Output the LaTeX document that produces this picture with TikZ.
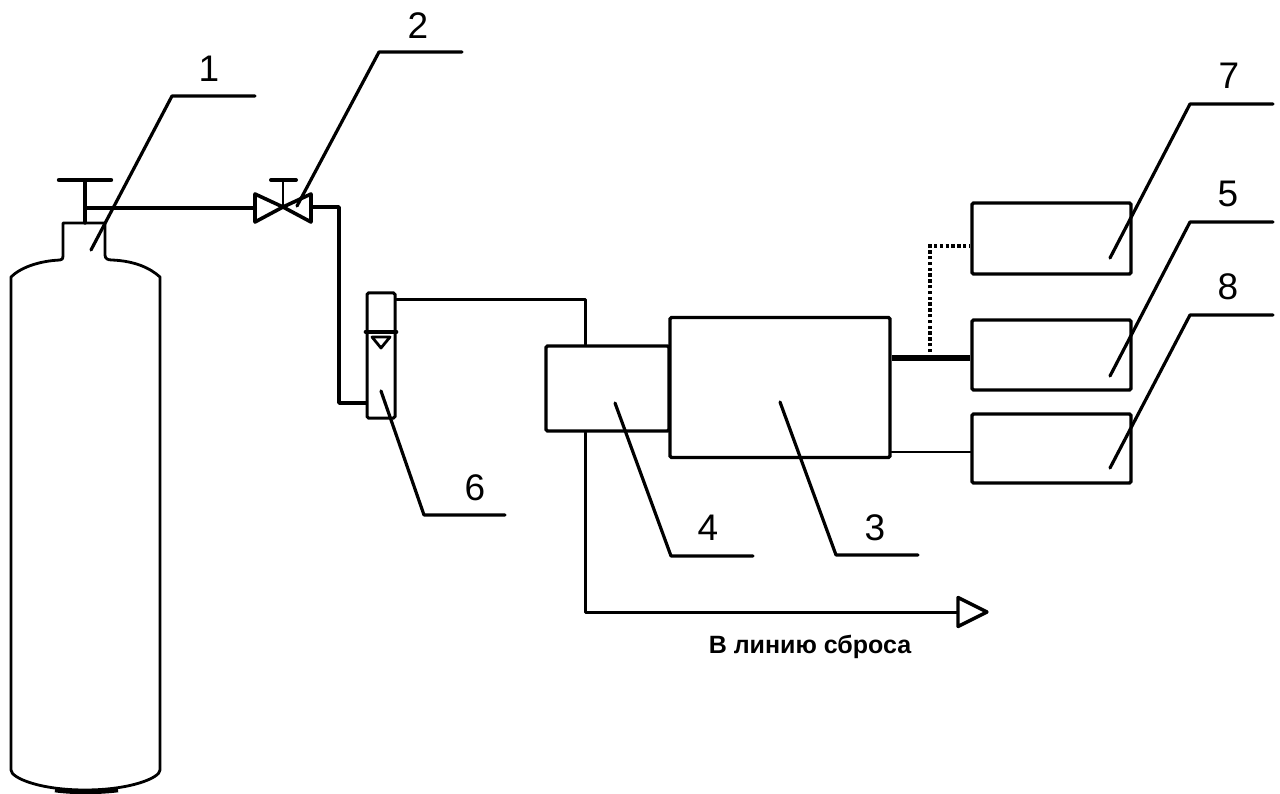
\documentclass[tikz,border=0pt]{standalone}
\usepackage{fontspec}
\setmainfont{Liberation Sans}
\tikzset{
  x=1pt,y=-1pt,
  ln/.style={line width=3pt,black,line join=round,line cap=round},
  blockbox/.style={draw=black,line width=3.4pt,rounded corners=1.5pt,inner sep=0pt,fill=white},
  leader/.style={line width=3.2pt,black,line join=round,line cap=round},
  num/.style={font=\fontsize{37}{37}\selectfont,inner sep=0pt},
}
\begin{document}
\begin{tikzpicture}
\useasboundingbox[fill=white] (0,0) rectangle (1280,794);
% cylinder
\draw[ln,line width=2.8pt] (63,223) -- (105,223) -- (105,255) .. controls (105,259) and (108,260) .. (112,260)
   .. controls (135,261) and (150,268) .. (160,277) -- (160,770)
   .. controls (160,778) and (130,790) .. (85,790)
   .. controls (40,790) and (11,778) .. (11,770) -- (11,277)
   .. controls (20,268) and (38,261) .. (60,260) .. controls (62,260) and (63,259) .. (63,255) -- (63,223);
\draw[line width=4.6pt,black] (55,790) .. controls (72,792.5) and (98,792.5) .. (118,790);
\coordinate (cylvalve) at (85,223);
\coordinate (cyltee) at (85,208);
\draw[ln,line width=4.4pt] (59,180) -- (111,180);
\draw[ln,line width=3.4pt] (85,180) -- (cylvalve);
% valve
\coordinate (vc) at (283,207);
\draw[ln,line width=3.6pt] (vc) -- (255,194) -- (255,222) -- cycle;
\draw[ln,line width=3.6pt] (vc) -- (311,194) -- (311,222) -- cycle;
\draw[ln,line width=2.8pt] (vc) -- (283,180);
\draw[ln,line width=4pt] (271,180) -- (296,180);
\draw[ln,line width=4pt] (cyltee) -- (255,208);
% rotameter
\node[blockbox,minimum width=28pt,minimum height=125pt,line width=3pt] (rot) at (381,355.5) {};
\draw[ln,line width=3.6pt] (rot.west |- 0,332) -- (rot.east |- 0,332);
\draw[ln,line width=2.8pt] (372,337) -- (381,348) -- (390,337) -- cycle;
\coordinate (rin) at (rot.west |- 0,403);
\coordinate (rout) at (rot.east |- 0,300);
\draw[ln,line width=3.4pt] (311,207) -- (339,207) -- (339,403) -- (rin);
% boxes
\node[blockbox,minimum width=123pt,minimum height=85pt] (b4) at (607.5,388.5) {};
\node[blockbox,minimum width=220pt,minimum height=140pt] (b3) at (780,387.5) {};
\node[blockbox,minimum width=159pt,minimum height=71pt] (b7) at (1051.5,238.5) {};
\node[blockbox,minimum width=159pt,minimum height=70pt] (b5) at (1051.5,355) {};
\node[blockbox,minimum width=159pt,minimum height=69pt] (b8) at (1051.5,448.5) {};
\coordinate (t4) at (b4.north -| 585,0);
\coordinate (s4) at (b4.south -| 585,0);
\draw[ln] (rout) -- (585,300) -- (t4);
\coordinate (arrowtail) at (958,612);
\draw[ln] (s4) -- (585,612) -- (arrowtail);
\draw[ln,line width=3.4pt,fill=white] (958,597.5) -- (987,612) -- (958,626.5) -- cycle;
% signal lines
\coordinate (o3) at (b3.east |- 0,358);
\coordinate (i5) at (b5.west |- 0,358);
\coordinate (tap) at (930,358);
\draw[line width=5pt,black] (o3) -- (i5);
\draw[line width=3.6pt,black,dash pattern=on 3.4pt off 2.4pt] (tap) -- (930,246) -- (b7.west |- 0,246);
\coordinate (o3b) at (b3.east |- 0,452);
\coordinate (i8) at (b8.west |- 0,452);
\draw[ln,line width=2.2pt] (o3b) -- (i8);
% leaders
\coordinate (l1a) at (91,250); \coordinate (l1b) at (172,96); \coordinate (l1c) at (255,96);
\coordinate (l2a) at (297,206); \coordinate (l2b) at (379,52); \coordinate (l2c) at (462,52);
\coordinate (l6a) at (381,391); \coordinate (l6b) at (424,515); \coordinate (l6c) at (505,515);
\coordinate (l4a) at (615,403); \coordinate (l4b) at (671,556); \coordinate (l4c) at (753,556);
\coordinate (l3a) at (780,402); \coordinate (l3b) at (836,555); \coordinate (l3c) at (918,555);
\coordinate (l7a) at (1110,258); \coordinate (l7b) at (1190,104); \coordinate (l7c) at (1273,104);
\coordinate (l5a) at (1110,376); \coordinate (l5b) at (1190,222); \coordinate (l5c) at (1273,222);
\coordinate (l8a) at (1110,468); \coordinate (l8b) at (1190,315); \coordinate (l8c) at (1273,315);
\foreach \n in {1,2,6,4,3,7,5,8}{\draw[leader] (l\n a) -- (l\n b) -- (l\n c);}
% labels
\node[num] (n1) at (209,69) {1};
\node[num] (n2) at (418,26) {2};
\node[num] (n6) at (475,488) {6};
\node[num] (n4) at (708,528) {4};
\node[num] (n3) at (875,528) {3};
\node[num] (n7) at (1229,76) {7};
\node[num] (n5) at (1228,194) {5};
\node[num] (n8) at (1228,287) {8};
\node[font=\bfseries\fontsize{25}{25}\selectfont,inner sep=0pt] (cap) at (810,647) {В линию сброса};
\end{tikzpicture}
\end{document}
